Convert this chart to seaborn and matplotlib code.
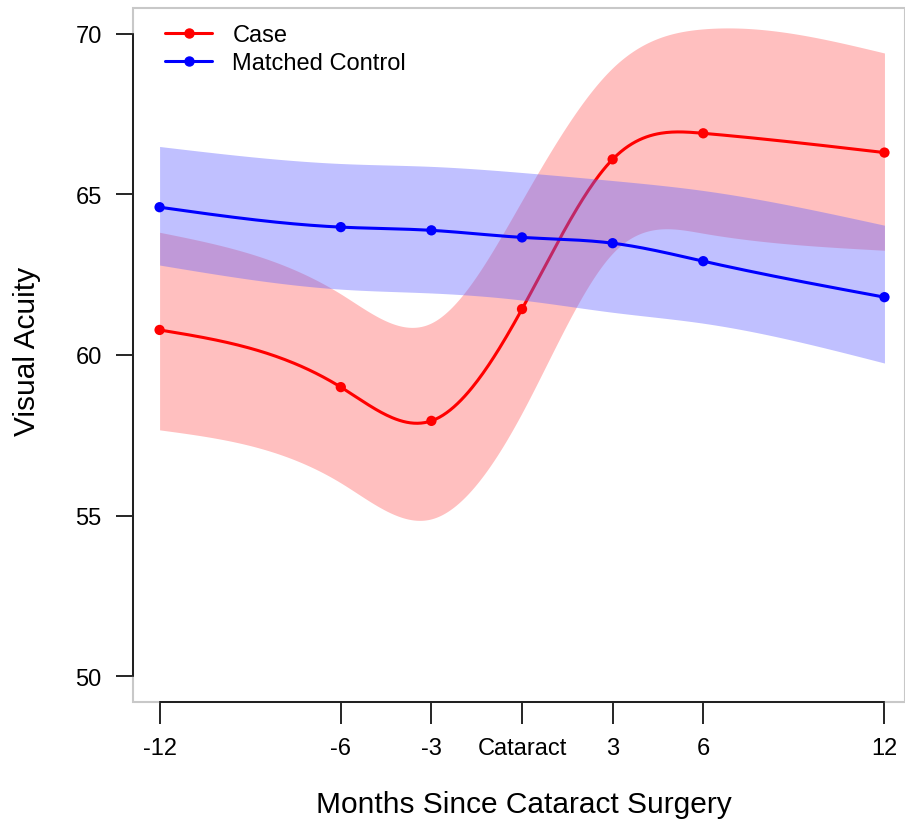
"""
Visual acuity around cataract surgery: cases vs matched controls,
smoothed trajectories with confidence bands.
"""

import numpy as np
import pandas as pd
import matplotlib
matplotlib.use("Agg")
import matplotlib.pyplot as plt
from matplotlib.lines import Line2D
from matplotlib.patches import Rectangle
import seaborn as sns

# ---------------------------------------------------------------------------
# Data
# ---------------------------------------------------------------------------
months = [-12, -6, -3, 0, 3, 6, 12]
month_labels = ["-12", "-6", "-3", "Cataract", "3", "6", "12"]

case_mean = [60.78, 59.0, 57.95, 61.43, 66.09, 66.9, 66.3]
case_lower = [57.67, 56.02, 54.9, 58.2, 63.17, 63.79, 63.26]
case_upper = [63.82, 61.9, 61.0, 64.81, 68.94, 70.15, 69.4]

ctrl_mean = [64.6, 63.98, 63.88, 63.66, 63.48, 62.92, 61.8]
ctrl_lower = [62.8, 62.05, 61.93, 61.71, 61.33, 60.99, 59.75]
ctrl_upper = [66.49, 65.96, 65.87, 65.68, 65.43, 65.12, 64.04]

y_ticks = [50, 55, 60, 65, 70]


def natural_spline(x, y, xs):
    """Natural cubic spline through (x, y), evaluated at xs (smooth drawing)."""
    x = np.asarray(x, float)
    y = np.asarray(y, float)
    n = len(x)
    h = np.diff(x)
    A = np.zeros((n, n))
    b = np.zeros(n)
    A[0, 0] = A[-1, -1] = 1.0
    for i in range(1, n - 1):
        A[i, i - 1] = h[i - 1]
        A[i, i] = 2 * (h[i - 1] + h[i])
        A[i, i + 1] = h[i]
        b[i] = 6 * ((y[i + 1] - y[i]) / h[i] - (y[i] - y[i - 1]) / h[i - 1])
    M = np.linalg.solve(A, b)
    idx = np.clip(np.searchsorted(x, xs) - 1, 0, n - 2)
    x0, x1 = x[idx], x[idx + 1]
    hh = x1 - x0
    return (M[idx] * (x1 - xs) ** 3 / (6 * hh)
            + M[idx + 1] * (xs - x0) ** 3 / (6 * hh)
            + (y[idx] / hh - M[idx] * hh / 6) * (x1 - xs)
            + (y[idx + 1] / hh - M[idx + 1] * hh / 6) * (xs - x0))


xs = np.linspace(months[0], months[-1], 400)
case_df = pd.DataFrame({"month": xs,
                        "acuity": natural_spline(months, case_mean, xs),
                        "lo": natural_spline(months, case_lower, xs),
                        "hi": natural_spline(months, case_upper, xs)})
ctrl_df = pd.DataFrame({"month": xs,
                        "acuity": natural_spline(months, ctrl_mean, xs),
                        "lo": natural_spline(months, ctrl_lower, xs),
                        "hi": natural_spline(months, ctrl_upper, xs)})
case_pts = pd.DataFrame({"month": months, "acuity": case_mean})
ctrl_pts = pd.DataFrame({"month": months, "acuity": ctrl_mean})

# ---------------------------------------------------------------------------
# Plot
# ---------------------------------------------------------------------------
sns.set_style("white")
plt.rcParams["font.family"] = ["Liberation Sans", "DejaVu Sans"]
plt.rcParams.update({"text.color": "black", "axes.labelcolor": "black",
                     "xtick.color": "black", "ytick.color": "black"})

fig = plt.figure(figsize=(9.05, 8.28), dpi=100)
ax = fig.add_axes([133 / 905, 125 / 828, 772 / 905, 694 / 828])

# case band + line
ax.fill_between(case_df["month"], case_df["lo"], case_df["hi"],
                color="red", alpha=0.25, lw=0, zorder=1)
sns.lineplot(data=case_df, x="month", y="acuity", color="red", lw=2.2,
             estimator=None, sort=False, ax=ax, zorder=2)
sns.scatterplot(data=case_pts, x="month", y="acuity", color="red", s=55,
                edgecolor="none", ax=ax, zorder=3)

# control band drawn over the case line (as in the original)
ax.fill_between(ctrl_df["month"], ctrl_df["lo"], ctrl_df["hi"],
                color="#6262FF", alpha=0.4, lw=0, zorder=4)
sns.lineplot(data=ctrl_df, x="month", y="acuity", color="blue", lw=2.2,
             estimator=None, sort=False, ax=ax, zorder=5)
sns.scatterplot(data=ctrl_pts, x="month", y="acuity", color="blue", s=55,
                edgecolor="none", ax=ax, zorder=6)

ax.set_xlim(-12.88, 12.68)
ax.set_ylim(49.2, 70.8)

# R-style axes: black axis lines over the ticked range, grey frame around
for side in ["top", "right"]:
    ax.spines[side].set_visible(False)
ax.spines["left"].set_bounds(50, 70)
ax.spines["bottom"].set_bounds(-12, 12)
for side in ["left", "bottom"]:
    ax.spines[side].set_color("black")
    ax.spines[side].set_linewidth(1.2)
    ax.spines[side].set_zorder(8)
ax.add_patch(Rectangle((0, 0), 1, 1, transform=ax.transAxes, fill=False,
                       edgecolor="#c8c8c8", lw=1.5, clip_on=False, zorder=7))

ax.set_xticks(months)
ax.set_xticklabels(month_labels)
ax.set_yticks(y_ticks)
ax.set_yticklabels([str(v) for v in y_ticks])
ax.tick_params(axis="y", length=12, width=1.2, pad=10.5, labelsize=17,
               left=True, color="black", labelcolor="black")
ax.tick_params(axis="x", length=16, width=1.2, pad=9, labelsize=17,
               bottom=True, color="black", labelcolor="black")

ax.set_xlabel("Months Since Cataract Surgery", fontsize=21.5, color="black")
ax.set_ylabel("Visual Acuity", fontsize=21.5, color="black")
ax.xaxis.set_label_coords(0.506, -0.127)
ax.yaxis.set_label_coords(-0.119, 0.507)

handles = [Line2D([], [], color="red", lw=2.2, marker="o", ms=6.5),
           Line2D([], [], color="blue", lw=2.2, marker="o", ms=6.5)]
leg = ax.legend(handles, ["Case", "Matched Control"], loc="upper left",
                bbox_to_anchor=(32 / 772, 0.977), frameon=False, fontsize=17,
                handlelength=2.0, handletextpad=0.85, labelspacing=0.25,
                borderpad=0, borderaxespad=0)
for t in leg.get_texts():
    t.set_color("black")

fig.savefig("out.png", dpi=100)
